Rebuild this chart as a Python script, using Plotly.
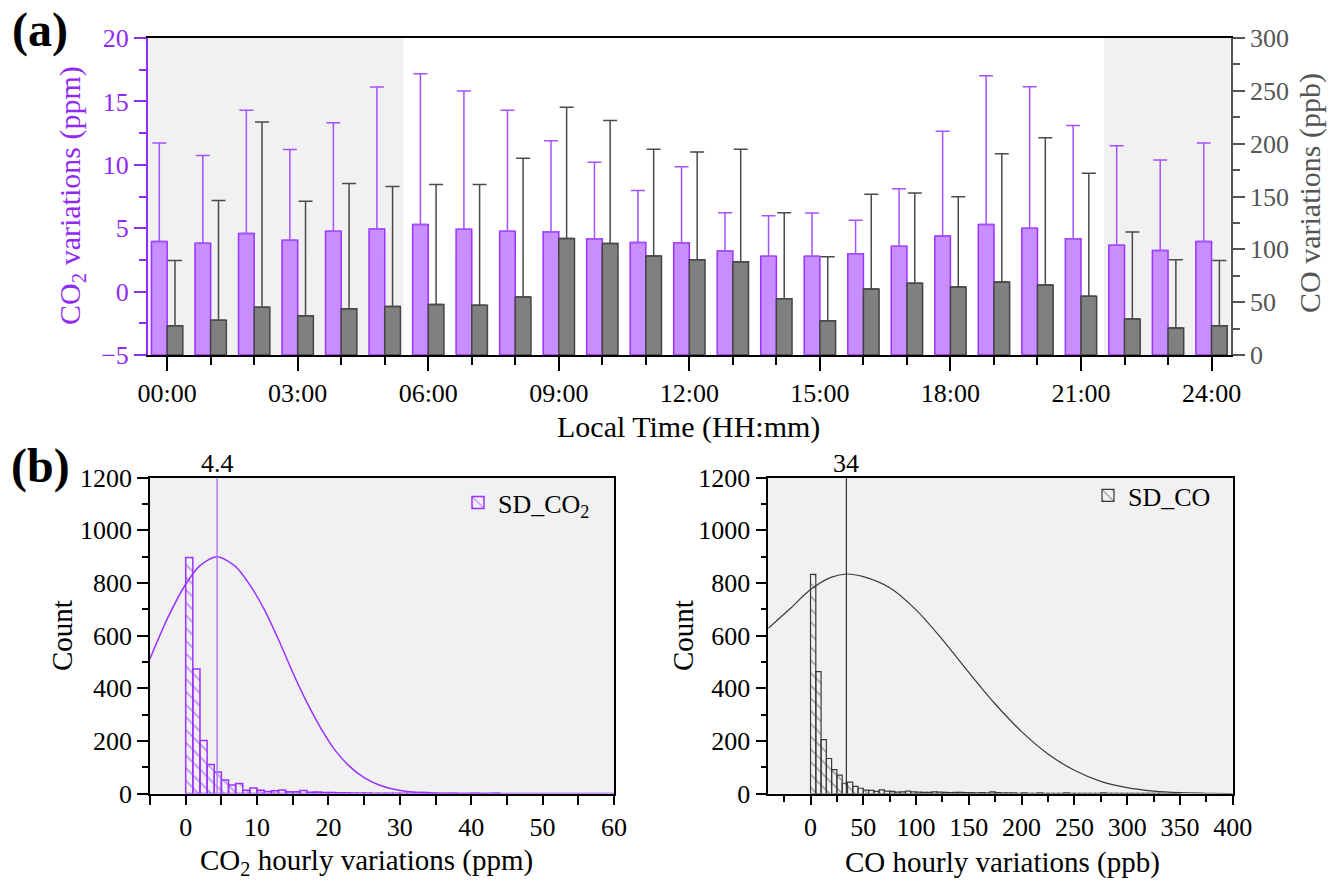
import numpy as np
import plotly.graph_objects as go

# ---------------- data ----------------
hours = list(range(25))
hour_ticks = [0, 3, 6, 9, 12, 15, 18, 21, 24]
hour_labels = ["00:00", "03:00", "06:00", "09:00", "12:00", "15:00", "18:00", "21:00", "24:00"]

# hourly mean of CO2 variations (ppm) and their standard deviation
co2_mean = [3.96, 3.81, 4.59, 4.04, 4.75, 4.93, 5.30, 4.91, 4.75, 4.72, 4.17, 3.88, 3.86,
            3.20, 2.78, 2.78, 2.99, 3.57, 4.38, 5.30, 4.99, 4.17, 3.65, 3.25, 3.96]
co2_sd = [7.75, 6.92, 9.71, 7.17, 8.56, 11.21, 11.89, 10.92, 9.55, 7.17, 6.04, 4.10, 5.98,
          3.02, 3.20, 3.41, 2.63, 4.54, 8.27, 11.73, 11.17, 8.93, 7.85, 7.12, 7.75]

# hourly mean of CO variations (ppb) and their standard deviation
co_mean = [27.7, 32.8, 45.1, 37.2, 43.8, 46.0, 47.9, 47.0, 54.8, 110.3, 105.6, 93.6, 90.1,
           88.2, 53.3, 32.5, 62.4, 67.8, 64.3, 69.0, 66.2, 55.5, 34.0, 25.5, 27.7]
co_sd = [61.8, 113.4, 175.5, 108.4, 118.5, 113.5, 113.5, 114.4, 131.5, 124.2, 116.3, 101.2, 102.1,
         106.6, 81.3, 60.5, 89.8, 85.4, 85.4, 121.4, 139.3, 116.6, 82.3, 64.6, 61.8]

# night time (shaded)
sunrise_hour = 5.43
sunset_hour = 21.53

# histogram of hourly CO2 standard deviations (1 ppm bins starting at 0)
co2_bin_width = 1.0
co2_counts = [897, 473, 201, 110, 82, 51, 32, 38, 12, 21, 12, 8, 10, 13, 7, 7, 11, 5, 6, 4,
              4, 3, 3, 2, 2, 2, 1, 1, 1, 1, 1, 1, 1, 4, 1, 0, 0, 1, 0, 0, 1, 0, 0, 1]
co2_sd_mean = 4.4
co2_fit_x = [-5, -2.5, 0, 2, 4.4, 7, 9, 11, 13, 15, 17, 19, 21, 23, 25, 27, 29, 31, 33, 36, 40, 50, 60]
co2_fit_y = [512, 668, 795, 866, 900, 862, 792, 700, 585, 460, 345, 245, 162, 102, 60, 33, 17, 8, 4, 1, 0, 0, 0]

# histogram of hourly CO standard deviations (5 ppb bins starting at 0)
co_bin_width = 5.0
co_counts = [833, 463, 205, 133, 91, 70, 39, 43, 27, 20, 13, 12, 8, 14, 9, 8, 5, 6, 9, 6,
             5, 4, 4, 6, 5, 4, 3, 4, 4, 3, 3, 2, 3, 2, 6, 3, 2, 2, 2, 1, 2, 1, 1, 2, 1,
             1, 1, 1, 2, 1, 1, 1, 1, 1, 1, 2, 1, 1, 1, 1, 1, 1, 1, 1, 1, 1, 1, 0, 1, 1]
co_sd_mean = 34
co_fit_x = [-40, -20, 0, 20, 34, 50, 75, 100, 125, 150, 175, 200, 225, 250, 275, 300, 325, 350, 375, 400]
co_fit_y = [628, 700, 775, 822, 834, 824, 782, 698, 585, 460, 340, 235, 150, 88, 46, 22, 9, 3, 1, 0]

# ---------------- styles ----------------
FONT = "Liberation Serif, Times New Roman, serif"
PURPLE = "#8F2BF5"
PURPLE_FILL = "#C88EFF"
PURPLE_EDGE = "#9933FF"
GREY_TXT = "#555555"
GREY_FILL = "#808080"
GREY_EDGE = "#444444"
PANEL_BG = "#F1F1F1"

W, H = 1338, 886
CO2_AXIS_MIN, CO2_AXIS_MAX = -5, 20
CO_AXIS_MIN, CO_AXIS_MAX = 0, 300


def px_x(x):
    return x / W


def px_y(y):
    return 1 - y / H


fig = go.Figure()

# ---------------- (a) hourly bars ----------------
# CO2 bars rise from the bottom of their axis (-5 ppm)
fig.add_trace(go.Bar(
    x=hours, y=[v - CO2_AXIS_MIN for v in co2_mean], base=CO2_AXIS_MIN,
    width=0.36, offset=-0.36,
    marker=dict(color=PURPLE_FILL, line=dict(color=PURPLE_EDGE, width=1.5)),
    error_y=dict(type="data", symmetric=False, array=co2_sd, arrayminus=[0] * len(hours),
                 color="#A451FF", thickness=1.5, width=7),
    xaxis="x", yaxis="y", showlegend=False, name="CO2",
))
fig.add_trace(go.Bar(
    x=hours, y=co_mean, width=0.36, offset=0.0,
    marker=dict(color=GREY_FILL, line=dict(color=GREY_EDGE, width=1.5)),
    error_y=dict(type="data", symmetric=False, array=co_sd, arrayminus=[0] * len(hours),
                 color="#4A4A4A", thickness=1.5, width=7),
    xaxis="x", yaxis="y2", showlegend=False, name="CO",
))

# ---------------- (b) histograms ----------------
co2_centers = (np.arange(len(co2_counts)) + 0.5) * co2_bin_width
co_centers = (np.arange(len(co_counts)) + 0.5) * co_bin_width

fig.add_trace(go.Bar(
    x=co2_centers, y=co2_counts, width=co2_bin_width,
    marker=dict(color="rgba(0,0,0,0)", line=dict(color=PURPLE_EDGE, width=1.5),
                pattern=dict(shape="\\", fgcolor=PURPLE_EDGE, bgcolor="rgba(0,0,0,0)",
                             size=9, solidity=0.2, fillmode="overlay")),
    xaxis="x2", yaxis="y3", name="SD_CO<sub>2</sub>", legend="legend",
))
fig.add_trace(go.Scatter(
    x=co2_fit_x, y=co2_fit_y, mode="lines",
    line=dict(color=PURPLE_EDGE, width=1.5, shape="spline", smoothing=0.8),
    xaxis="x2", yaxis="y3", showlegend=False,
))

fig.add_trace(go.Bar(
    x=co_centers, y=co_counts, width=co_bin_width,
    marker=dict(color="rgba(0,0,0,0)", line=dict(color="#3A3A3A", width=1.2),
                pattern=dict(shape="\\", fgcolor="#3A3A3A", bgcolor="rgba(0,0,0,0)",
                             size=9, solidity=0.16, fillmode="overlay")),
    xaxis="x3", yaxis="y4", name="SD_CO", legend="legend2",
))
fig.add_trace(go.Scatter(
    x=co_fit_x, y=co_fit_y, mode="lines",
    line=dict(color="#3A3A3A", width=1.2, shape="spline", smoothing=0.8),
    xaxis="x3", yaxis="y4", showlegend=False,
))

# ---------------- axes ----------------
top_dom_x = [px_x(148), px_x(1230.7)]
top_dom_y = [px_y(355), px_y(38)]
bl_dom_x = [px_x(150), px_x(614)]
br_dom_x = [px_x(768.3), px_x(1232.7)]
bot_dom_y = [px_y(793.5), px_y(477.7)]

tickfont = dict(family=FONT, size=26, color="black")
common = dict(showgrid=False, zeroline=False, automargin=False)

fig.update_layout(
    xaxis=dict(domain=top_dom_x, anchor="y", range=[-0.44, 24.44],
               tickmode="array", tickvals=hour_ticks, ticktext=hour_labels,
               ticks="outside", ticklen=14, tickwidth=2, tickcolor="black",
               minor=dict(dtick=1, tick0=0, ticks="outside", ticklen=8, tickwidth=1.5, tickcolor="black"),
               showline=True, linecolor="black", linewidth=2, mirror=True,
               tickfont=tickfont, **common),
    yaxis=dict(domain=top_dom_y, anchor="x", range=[CO2_AXIS_MIN, CO2_AXIS_MAX], dtick=5, tick0=0,
               ticks="outside", ticklen=12, tickwidth=2, tickcolor=PURPLE,
               minor=dict(dtick=2.5, tick0=0, ticks="outside", ticklen=7, tickwidth=1.5, tickcolor=PURPLE),
               showline=True, linecolor=PURPLE, linewidth=2,
               tickfont=dict(family=FONT, size=26, color=PURPLE), **common),
    yaxis2=dict(anchor="x", overlaying="y", side="right", range=[CO_AXIS_MIN, CO_AXIS_MAX], dtick=50, tick0=0,
                ticks="outside", ticklen=12, tickwidth=2, tickcolor=GREY_TXT,
                minor=dict(dtick=25, tick0=0, ticks="outside", ticklen=7, tickwidth=1.5, tickcolor=GREY_TXT),
                showline=True, linecolor=GREY_TXT, linewidth=2,
                tickfont=dict(family=FONT, size=26, color=GREY_TXT), **common),
    xaxis2=dict(domain=bl_dom_x, anchor="y3", range=[-5, 60], dtick=10, tick0=0,
                ticks="outside", ticklen=10, tickwidth=1.5, tickcolor="black",
                minor=dict(dtick=5, tick0=0, ticks="outside", ticklen=10, tickwidth=1.5, tickcolor="black"),
                showline=True, linecolor="black", linewidth=1.5, mirror=True,
                tickfont=tickfont, **common),
    yaxis3=dict(domain=bot_dom_y, anchor="x2", range=[0, 1200], dtick=200, tick0=0,
                ticks="outside", ticklen=11, tickwidth=1.5, tickcolor="black",
                minor=dict(dtick=100, tick0=0, ticks="outside", ticklen=6, tickwidth=1.5, tickcolor="black"),
                showline=True, linecolor="black", linewidth=1.5, mirror=True,
                tickfont=tickfont, **common),
    xaxis3=dict(domain=br_dom_x, anchor="y4", range=[-40, 400], dtick=50, tick0=0,
                ticks="outside", ticklen=10, tickwidth=1.5, tickcolor="black",
                minor=dict(dtick=25, tick0=0, ticks="outside", ticklen=7, tickwidth=1.5, tickcolor="black"),
                showline=True, linecolor="black", linewidth=1.5, mirror=True,
                tickfont=tickfont, **common),
    yaxis4=dict(domain=bot_dom_y, anchor="x3", range=[0, 1200], dtick=200, tick0=0,
                ticks="outside", ticklen=11, tickwidth=1.5, tickcolor="black",
                minor=dict(dtick=100, tick0=0, ticks="outside", ticklen=6, tickwidth=1.5, tickcolor="black"),
                showline=True, linecolor="black", linewidth=1.5, mirror=True,
                tickfont=tickfont, **common),
)

# ---------------- shading and reference lines ----------------
shapes = [
    dict(type="rect", xref="x", yref="y domain", x0=-0.44, x1=sunrise_hour, y0=0, y1=1,
         fillcolor=PANEL_BG, line=dict(width=0), layer="below"),
    dict(type="rect", xref="x", yref="y domain", x0=sunset_hour, x1=24.44, y0=0, y1=1,
         fillcolor=PANEL_BG, line=dict(width=0), layer="below"),
    dict(type="rect", xref="x2 domain", yref="y3 domain", x0=0, x1=1, y0=0, y1=1,
         fillcolor=PANEL_BG, line=dict(width=0), layer="below"),
    dict(type="rect", xref="x3 domain", yref="y4 domain", x0=0, x1=1, y0=0, y1=1,
         fillcolor=PANEL_BG, line=dict(width=0), layer="below"),
    dict(type="line", xref="x2", yref="y3 domain", x0=co2_sd_mean, x1=co2_sd_mean, y0=0, y1=1,
         line=dict(color="#B57BFF", width=1.5)),
    dict(type="line", xref="x3", yref="y4 domain", x0=co_sd_mean, x1=co_sd_mean, y0=0, y1=1,
         line=dict(color="#333333", width=1.2)),
]


def paper_text(text, x, y, size, color="black", angle=0):
    return dict(text=text, x=px_x(x), y=px_y(y), xref="paper", yref="paper",
                xanchor="center", yanchor="middle", textangle=angle, showarrow=False,
                font=dict(family=FONT, size=size, color=color))


annotations = [
    paper_text("<b>(a)</b>", 40, 30, 48),
    paper_text("<b>(b)</b>", 40, 466, 48),
    paper_text("CO<sub>2</sub> variations (ppm)", 72, 196, 30, PURPLE, -90),
    paper_text("CO variations (ppb)", 1310, 193, 30, GREY_TXT, -90),
    paper_text("Local Time (HH:mm)", 688, 427, 30),
    paper_text("Count", 62, 636, 29, angle=-90),
    paper_text("Count", 683, 636, 29, angle=-90),
    paper_text("CO<sub>2</sub> hourly variations (ppm)", 366, 862, 29),
    paper_text("CO hourly variations (ppb)", 1002, 862, 29),
    dict(text=f"{co2_sd_mean:g}", x=co2_sd_mean, y=1, xref="x2", yref="y3 domain",
         xanchor="center", yanchor="bottom", showarrow=False, yshift=-2,
         font=dict(family=FONT, size=26, color="black")),
    dict(text=f"{co_sd_mean:g}", x=co_sd_mean, y=1, xref="x3", yref="y4 domain",
         xanchor="center", yanchor="bottom", showarrow=False, yshift=-2,
         font=dict(family=FONT, size=26, color="black")),
]

fig.update_layout(
    template="none",
    width=W, height=H, autosize=False,
    margin=dict(l=0, r=0, t=0, b=0, pad=0),
    paper_bgcolor="white", plot_bgcolor="white",
    font=dict(family=FONT, size=26, color="black"),
    barmode="overlay",
    showlegend=True,
    legend=dict(x=px_x(458), y=px_y(479), xanchor="left", yanchor="top",
                bgcolor="rgba(0,0,0,0)", font=dict(family=FONT, size=26, color="black")),
    legend2=dict(x=px_x(1088), y=px_y(472), xanchor="left", yanchor="top",
                 bgcolor="rgba(0,0,0,0)", font=dict(family=FONT, size=26, color="black")),
    shapes=shapes,
    annotations=annotations,
)

fig.write_html("out.html")
